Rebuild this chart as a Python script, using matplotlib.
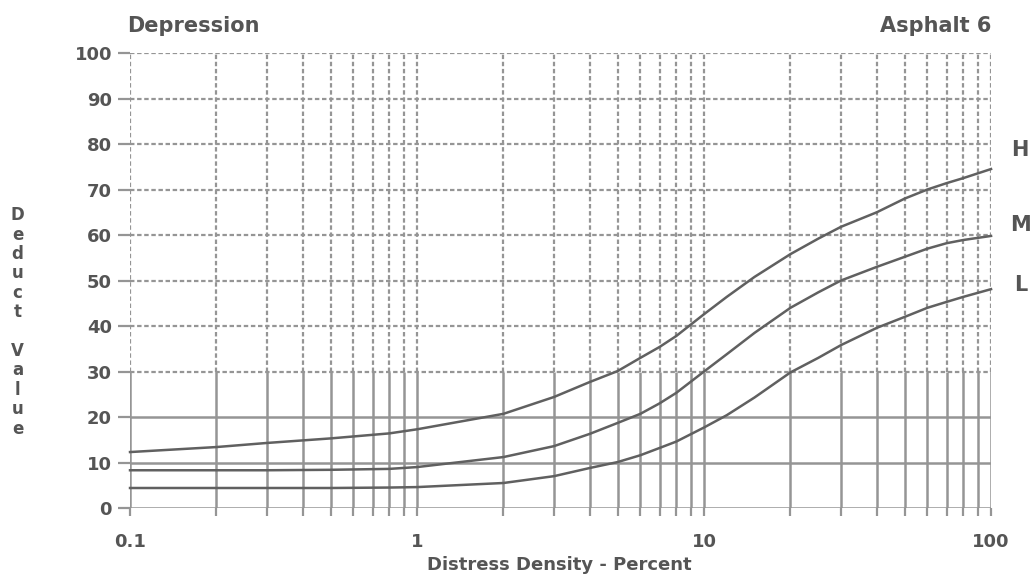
import numpy as np
import matplotlib
matplotlib.use("Agg")
import matplotlib.pyplot as plt

# PCI deduct curves for asphalt depression (low / medium / high severity)
density_pct = [0.1, 0.2, 0.3, 0.5, 0.8, 1, 2, 3, 4, 5, 6, 7, 8, 10, 12, 15, 20, 25, 30,
               40, 50, 60, 70, 80, 100]
deduct_high = [12.3, 13.4, 14.3, 15.3, 16.4, 17.3, 20.7, 24.4, 27.7, 30.1, 33.0, 35.4, 37.8,
               42.6, 46.4, 50.8, 55.8, 59.2, 61.8, 65.0, 68.0, 70.0, 71.4, 72.5, 74.5]
deduct_medium = [8.3, 8.3, 8.3, 8.4, 8.6, 9.0, 11.2, 13.6, 16.3, 18.7, 20.7, 23.0, 25.3,
                 30.0, 33.8, 38.5, 44.0, 47.4, 50.0, 53.0, 55.2, 57.0, 58.2, 58.9, 59.8]
deduct_low = [4.4, 4.4, 4.4, 4.4, 4.5, 4.6, 5.5, 7.0, 8.8, 10.1, 11.6, 13.2, 14.6,
              17.7, 20.4, 24.3, 29.8, 33.0, 35.8, 39.6, 42.0, 44.0, 45.3, 46.4, 48.1]

severity_labels = ["H", "M", "L"]
label_values = [78.7, 62.2, 49.0]

x_ticks = [0.1, 1, 10, 100]
x_tick_labels = ["0.1", "1", "10", "100"]
y_ticks = list(range(0, 101, 10))

grid_col = "#959595"
text_col = "#555555"
curve_col = "#606060"

fig = plt.figure(figsize=(10.36, 5.8), dpi=100)
ax = fig.add_axes([0.1255, 0.1241, 0.8311, 0.7845])
ax.set_xscale("log")
ax.set_xlim(0.1, 100)
ax.set_ylim(0, 100)

# log grid: every integer multiple within each decade
minor_x = [m * 10.0 ** e for e in (-1, 0, 1) for m in range(1, 10)] + [100]
for xv in minor_x:
    ax.vlines(xv, 0, 30, color=grid_col, lw=1.8, zorder=1)
    ax.vlines(xv, 30, 100, color=grid_col, lw=1.6, linestyles=(0, (2, 1.2)), zorder=1)
for yv in y_ticks:
    if yv <= 20:
        ax.axhline(yv, color=grid_col, lw=1.8, zorder=1)
    else:
        ax.axhline(yv, color=grid_col, lw=1.6, ls=(0, (2, 1.2)), zorder=1)

for s in ax.spines.values():
    s.set_visible(False)

for yvals in (deduct_high, deduct_medium, deduct_low):
    ax.plot(density_pct, yvals, color=curve_col, lw=1.8, zorder=3, clip_on=False)

ax.set_yticks(y_ticks)
ax.set_yticklabels([str(v) for v in y_ticks], fontsize=13, fontweight="bold", color=text_col)
ax.set_xticks(x_ticks)
ax.set_xticklabels(x_tick_labels, fontsize=13, fontweight="bold", color=text_col)
ax.set_xticks(minor_x, minor=True)
ax.xaxis.set_minor_formatter(matplotlib.ticker.NullFormatter())
ax.tick_params(axis="y", length=9, width=1.6, color=grid_col, pad=4)
ax.tick_params(axis="x", which="both", length=6, width=1.6, color=grid_col, pad=12)

for lab, val in zip(severity_labels, label_values):
    ax.text(1.034, val, lab, transform=ax.get_yaxis_transform(), fontsize=15,
            fontweight="bold", color=text_col, ha="center", va="center")

fig.text(0.123, 0.956, "Depression", fontsize=15, fontweight="bold", color=text_col,
         ha="left", va="center")
fig.text(0.957, 0.956, "Asphalt 6", fontsize=15, fontweight="bold", color=text_col,
         ha="right", va="center")
fig.text(0.54, 0.026, "Distress Density - Percent", fontsize=13, fontweight="bold",
         color=text_col, ha="center", va="center")
fig.text(0.017, 0.445, "\n".join("Deduct Value"), fontsize=12,
         fontweight="bold", color=text_col, ha="center", va="center", linespacing=1.1)

fig.savefig("out.png", dpi=100)
